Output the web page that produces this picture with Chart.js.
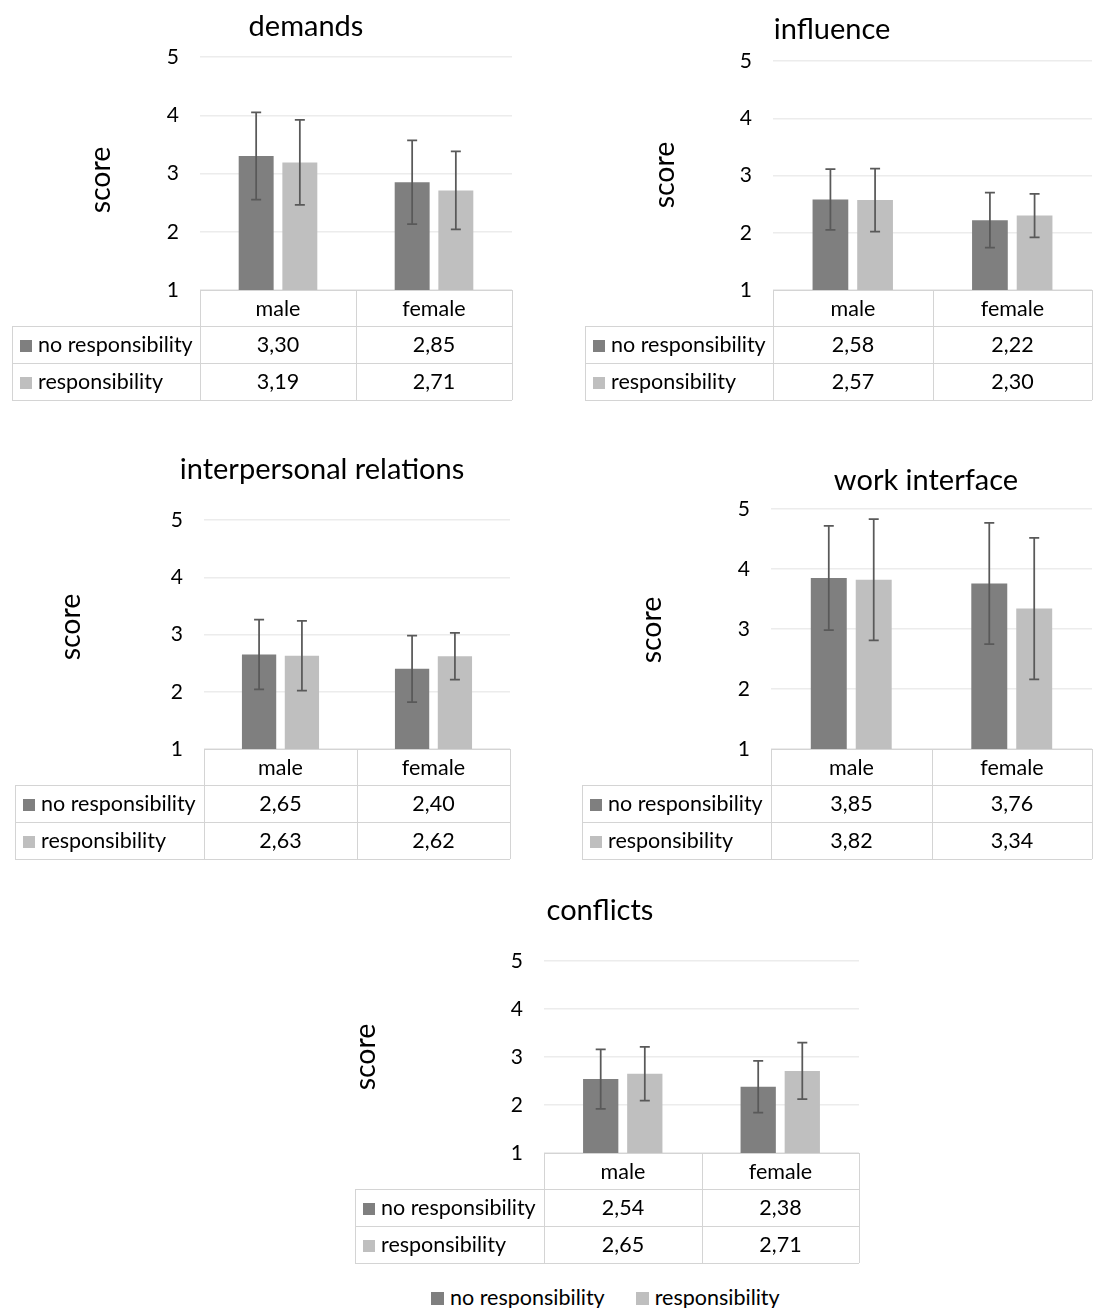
<!DOCTYPE html>
<html>
<head>
<meta charset="utf-8">
<title>scores by responsibility</title>
<script src="https://cdn.jsdelivr.net/npm/chart.js@4.4.0/dist/chart.umd.min.js"></script>
<style>
  body { margin: 0; background: #fff; width: 1093px; height: 1308px; position: relative; overflow: hidden; font-family: Lato, "Noto Sans", sans-serif; }
  .panel { position: absolute; }
  #legend { position: absolute; left: 431px; top: 1284px; font-size: 21.5px; color: #000; white-space: nowrap; }
  #legend span.sw { display: inline-block; width: 13px; height: 13px; margin-right: 6px; }
  #legend span.item { margin-right: 31px; }
</style>
</head>
<body>
<canvas id="c0" class="panel"></canvas>
<canvas id="c1" class="panel"></canvas>
<canvas id="c2" class="panel"></canvas>
<canvas id="c3" class="panel"></canvas>
<canvas id="c4" class="panel"></canvas>
<div id="legend"></div>

<script>
// data
const categories = ['male', 'female'];
const seriesNames = ['no responsibility', 'responsibility'];
const panelTitles = ['demands', 'influence', 'interpersonal relations', 'work interface', 'conflicts'];
const yTicks = [1, 2, 3, 4, 5];
const yTitle = 'score';

// means per panel [male, female]
const noRespMean = [[3.30, 2.85], [2.58, 2.22], [2.65, 2.40], [3.85, 3.76], [2.54, 2.38]];
const respMean   = [[3.19, 2.71], [2.57, 2.30], [2.63, 2.62], [3.82, 3.34], [2.65, 2.71]];
// error bar half-lengths
const noRespSd = [[0.75, 0.72], [0.53, 0.48], [0.61, 0.58], [0.87, 1.01], [0.62, 0.54]];
const respSd   = [[0.73, 0.67], [0.55, 0.38], [0.61, 0.41], [1.01, 1.18], [0.56, 0.59]];

const darkGrey = '#7f7f7f';
const lightGrey = '#bfbfbf';
const errColor = '#595959';
const gridColor = '#ececec';
const tableLine = '#d4d4d4';
const FONT = 'Lato, "Noto Sans", sans-serif';

// where each panel sits on the page
const boxes = [
  { left: 0,   top: 0,   w: 520, h: 410, plotLeft: 200, plotRight: 512, plotTop: 57, plotBottom: 290, tableLeft: 12, titleX: 306, titleY: 27, scoreX: 101, scoreY: 180 },
  { left: 573, top: 0,   w: 520, h: 410, plotLeft: 200, plotRight: 519, plotTop: 61, plotBottom: 290, tableLeft: 12, titleX: 259, titleY: 30, scoreX: 92,  scoreY: 175 },
  { left: 0,   top: 440, w: 520, h: 430, plotLeft: 204, plotRight: 510, plotTop: 80, plotBottom: 309, tableLeft: 15, titleX: 322, titleY: 30, scoreX: 71,  scoreY: 187 },
  { left: 573, top: 440, w: 520, h: 430, plotLeft: 198, plotRight: 519, plotTop: 69, plotBottom: 309, tableLeft: 9,  titleX: 353, titleY: 41, scoreX: 79,  scoreY: 190 },
  { left: 300, top: 880, w: 600, h: 400, plotLeft: 244, plotRight: 559, plotTop: 81, plotBottom: 273, tableLeft: 55, titleX: 300, titleY: 31, scoreX: 66,  scoreY: 177 }
];

const fmt = v => v.toFixed(2).replace('.', ',');

const errorBars = {
  id: 'errorBars',
  afterDatasetsDraw(chart) {
    const ctx = chart.ctx;
    const y = chart.scales.y;
    ctx.save();
    ctx.strokeStyle = errColor;
    ctx.lineWidth = 1.75;
    chart.data.datasets.forEach((ds, di) => {
      chart.getDatasetMeta(di).data.forEach((bar, i) => {
        const top = y.getPixelForValue(ds.data[i] + ds.sd[i]);
        const bot = y.getPixelForValue(ds.data[i] - ds.sd[i]);
        ctx.beginPath();
        ctx.moveTo(bar.x, top); ctx.lineTo(bar.x, bot);
        ctx.moveTo(bar.x - 5, top); ctx.lineTo(bar.x + 5, top);
        ctx.moveTo(bar.x - 5, bot); ctx.lineTo(bar.x + 5, bot);
        ctx.stroke();
      });
    });
    ctx.restore();
  }
};

// titles + data table under the plot
const tableAndTitle = {
  id: 'tableAndTitle',
  afterDraw(chart, args, opts) {
    const ctx = chart.ctx;
    const { left, right, bottom } = chart.chartArea;
    const xs = chart.scales.x;
    const mid = Math.round((xs.getPixelForValue(0) + xs.getPixelForValue(1)) / 2);
    const r0 = bottom, r1 = bottom + 36, r2 = bottom + 73, r3 = bottom + 110;
    const tl = opts.tableLeft;
    const p = v => Math.round(v) + 0.5;

    ctx.save();
    ctx.fillStyle = '#000';
    ctx.font = '29px ' + FONT;
    ctx.textAlign = 'center';
    ctx.textBaseline = 'middle';
    ctx.fillText(opts.title, opts.titleX, opts.titleY);

    // axis title
    ctx.save();
    ctx.translate(opts.scoreX, opts.scoreY);
    ctx.rotate(-Math.PI / 2);
    ctx.font = '28.5px ' + FONT;
    ctx.fillText(yTitle, 0, 0);
    ctx.restore();

    ctx.strokeStyle = tableLine;
    ctx.lineWidth = 1;
    ctx.beginPath();
    ctx.moveTo(left, p(r0)); ctx.lineTo(right, p(r0));
    [r1, r2, r3].forEach(r => { ctx.moveTo(tl, p(r)); ctx.lineTo(right, p(r)); });
    ctx.moveTo(p(tl), r1); ctx.lineTo(p(tl), r3);
    [left, mid, right].forEach(x => { ctx.moveTo(p(x), r0); ctx.lineTo(p(x), r3); });
    ctx.stroke();

    ctx.font = '21.5px ' + FONT;
    ctx.fillStyle = '#000';
    const colMid = [(left + mid) / 2, (mid + right) / 2];
    categories.forEach((c, i) => ctx.fillText(c, colMid[i], (r0 + r1) / 2 + 1));
    const rows = [[r1, r2], [r2, r3]];
    chart.data.datasets.forEach((ds, di) => {
      const cy = (rows[di][0] + rows[di][1]) / 2 + 1;
      ctx.fillStyle = ds.backgroundColor;
      ctx.fillRect(tl + 8, Math.round(cy - 6), 12, 12);
      ctx.fillStyle = '#000';
      ctx.textAlign = 'left';
      ctx.fillText(ds.label, tl + 26, cy);
      ctx.textAlign = 'center';
      ds.data.forEach((v, i) => ctx.fillText(fmt(v), colMid[i], cy));
    });
    ctx.restore();
  }
};

boxes.forEach((b, i) => {
  const canvas = document.getElementById('c' + i);
  canvas.width = b.w;
  canvas.height = b.h;
  canvas.style.left = b.left + 'px';
  canvas.style.top = b.top + 'px';

  new Chart(canvas, {
    type: 'bar',
    data: {
      labels: categories,
      datasets: [
        { label: seriesNames[0], data: noRespMean[i], sd: noRespSd[i], backgroundColor: darkGrey },
        { label: seriesNames[1], data: respMean[i], sd: respSd[i], backgroundColor: lightGrey }
      ]
    },
    options: {
      responsive: false,
      animation: false,
      devicePixelRatio: 1,
      layout: { padding: { left: 0, right: b.w - b.plotRight, top: b.plotTop, bottom: b.h - b.plotBottom } },
      datasets: { bar: { categoryPercentage: 0.56, barPercentage: 0.8 } },
      plugins: {
        legend: { display: false },
        tooltip: { enabled: false },
        tableAndTitle: { title: panelTitles[i], titleX: b.titleX, titleY: b.titleY, tableLeft: b.tableLeft, scoreX: b.scoreX, scoreY: b.scoreY }
      },
      scales: {
        x: { display: false },
        y: {
          min: yTicks[0],
          max: yTicks[yTicks.length - 1],
          afterBuildTicks: s => { s.ticks = yTicks.map(v => ({ value: v })); },
          ticks: { padding: 21, color: '#000', font: { family: FONT, size: 21 } },
          grid: { color: gridColor, drawTicks: false, lineWidth: 1.5 },
          border: { display: false },
          afterFit: s => { s.width = b.plotLeft; }
        }
      }
    },
    plugins: [errorBars, tableAndTitle]
  });
});

document.getElementById('legend').innerHTML = seriesNames.map((n, i) =>
  '<span class="item"><span class="sw" style="background:' + (i ? lightGrey : darkGrey) + '"></span>' + n + '</span>'
).join('');
</script>
</body>
</html>
